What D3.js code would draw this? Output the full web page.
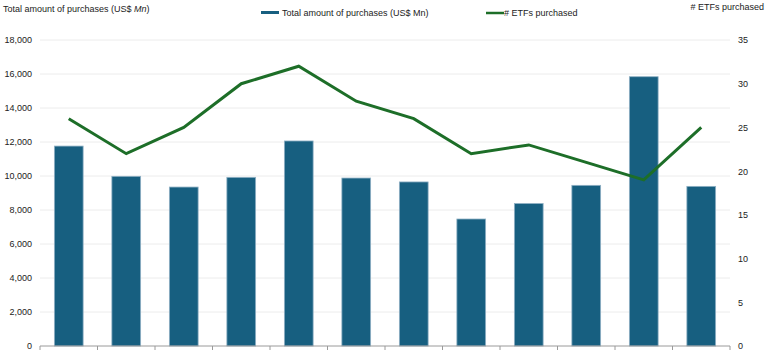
<!DOCTYPE html>
<html>
<head>
<meta charset="utf-8">
<script src="https://cdn.jsdelivr.net/npm/d3@7"></script>
<style>
  body { margin: 0; background: #fff; }
  svg { display: block; font-family: "Liberation Sans", Arial, sans-serif; }
</style>
</head>
<body>
<div id="chart"></div>
<script>
  // Data
  const categories = ["1", "2", "3", "4", "5", "6", "7", "8", "9", "10", "11", "12"];
  const purchases = [11760, 9980, 9350, 9920, 12060, 9880, 9650, 7470, 8380, 9450, 15840, 9390];
  const etfCount = [26, 22, 25, 30, 32, 28, 26, 22, 23, 21, 19, 25];
  const leftTicks = [0, 2000, 4000, 6000, 8000, 10000, 12000, 14000, 16000, 18000];
  const rightTicks = [0, 5, 10, 15, 20, 25, 30, 35];

  const W = 768, H = 354;
  const margin = { top: 40, right: 38, bottom: 8, left: 40 };
  const width = W - margin.left - margin.right;
  const height = H - margin.top - margin.bottom;

  const svg = d3.select("#chart").append("svg")
    .attr("width", W)
    .attr("height", H);

  const g = svg.append("g")
    .attr("transform", `translate(${margin.left},${margin.top})`);

  const x = d3.scaleBand().domain(categories).range([0, width])
    .paddingInner(0.5).paddingOuter(0.25);
  const yL = d3.scaleLinear().domain([0, 18000]).range([height, 0]);
  const yR = d3.scaleLinear().domain([0, 35]).range([height, 0]);

  // gridlines
  g.append("g")
    .selectAll("line")
    .data(leftTicks.filter(d => d > 0))
    .join("line")
    .attr("x1", 0).attr("x2", width)
    .attr("y1", d => yL(d)).attr("y2", d => yL(d))
    .attr("stroke", "#ececec").attr("stroke-width", 1);

  // left axis labels
  const fmt = d3.format(",");
  g.append("g")
    .call(d3.axisLeft(yL).tickValues(leftTicks).tickFormat(fmt).tickSize(0).tickPadding(8))
    .call(a => a.select(".domain").remove())
    .selectAll("text")
    .attr("font-family", "Liberation Sans, Arial, sans-serif")
    .attr("font-size", 9).attr("fill", "#222");

  // right axis labels
  g.append("g")
    .attr("transform", `translate(${width},0)`)
    .call(d3.axisRight(yR).tickValues(rightTicks).tickSize(0).tickPadding(8))
    .call(a => a.select(".domain").remove())
    .selectAll("text")
    .attr("font-family", "Liberation Sans, Arial, sans-serif")
    .attr("font-size", 9).attr("fill", "#222");

  // bars
  g.selectAll("rect.bar")
    .data(purchases)
    .join("rect")
    .attr("class", "bar")
    .attr("x", (d, i) => x(categories[i]))
    .attr("y", d => yL(d))
    .attr("width", x.bandwidth())
    .attr("height", d => height - yL(d))
    .attr("fill", "#175f80")
    .attr("stroke", "#8fb0c4")
    .attr("stroke-width", 0.8);

  // x axis: line plus ticks at category boundaries
  const step = x.step();
  g.append("line")
    .attr("x1", 0).attr("x2", width)
    .attr("y1", height).attr("y2", height)
    .attr("stroke", "#9a9a9a");
  g.append("g")
    .selectAll("line")
    .data(d3.range(categories.length + 1))
    .join("line")
    .attr("x1", i => i * step).attr("x2", i => i * step)
    .attr("y1", height).attr("y2", height + 4)
    .attr("stroke", "#9a9a9a");

  // line series
  const line = d3.line()
    .x((d, i) => x(categories[i]) + x.bandwidth() / 2)
    .y(d => yR(d));
  g.append("path")
    .datum(etfCount)
    .attr("d", line)
    .attr("fill", "none")
    .attr("stroke", "#1d6e28")
    .attr("stroke-width", 3);

  // axis titles
  const leftTitle = svg.append("text")
    .attr("x", 3).attr("y", 12)
    .attr("font-size", 9).attr("fill", "#222");
  leftTitle.append("tspan").text("Total amount of purchases (US$ ");
  leftTitle.append("tspan").attr("font-style", "italic").text("Mn");
  leftTitle.append("tspan").text(")");

  svg.append("text")
    .attr("x", 764).attr("y", 10)
    .attr("text-anchor", "end")
    .attr("font-size", 9).attr("fill", "#222")
    .text("# ETFs purchased");

  // legend
  const legend = svg.append("g");
  legend.append("rect")
    .attr("x", 261).attr("y", 11).attr("width", 18).attr("height", 3)
    .attr("fill", "#175f80");
  legend.append("text")
    .attr("x", 282).attr("y", 16)
    .attr("font-size", 9).attr("fill", "#222")
    .text("Total amount of purchases (US$ Mn)");
  legend.append("line")
    .attr("x1", 486).attr("x2", 504).attr("y1", 13).attr("y2", 13)
    .attr("stroke", "#1d6e28").attr("stroke-width", 2.5);
  legend.append("text")
    .attr("x", 504).attr("y", 16)
    .attr("font-size", 9).attr("fill", "#222")
    .text("# ETFs purchased");
</script>
</body>
</html>
